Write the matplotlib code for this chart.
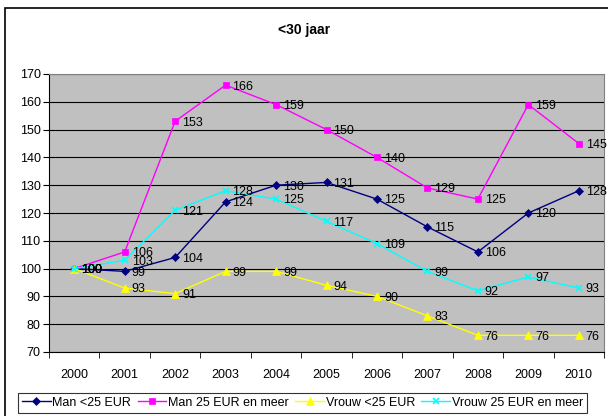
import matplotlib
matplotlib.use('Agg')
import matplotlib.pyplot as plt
from matplotlib.patches import Rectangle
from matplotlib.ticker import MultipleLocator, FixedLocator

plt.rcParams['font.family'] = ['Liberation Sans', 'DejaVu Sans']

years = ['2000', '2001', '2002', '2003', '2004', '2005', '2006', '2007', '2008', '2009', '2010']
man_lt25 = [100, 99, 104, 124, 130, 131, 125, 115, 106, 120, 128]
man_25plus = [100, 106, 153, 166, 159, 150, 140, 129, 125, 159, 145]
vrouw_lt25 = [100, 93, 91, 99, 99, 94, 90, 83, 76, 76, 76]
vrouw_25plus = [100, 103, 121, 128, 125, 117, 109, 99, 92, 97, 93]

series = [
    ('Man <25 EUR', man_lt25, '#000080', 'D', 4),
    ('Man 25 EUR en meer', man_25plus, '#FF00FF', 's', 4.5),
    ('Vrouw <25 EUR', vrouw_lt25, '#FFFF00', '^', 5.5),
    ('Vrouw 25 EUR en meer', vrouw_25plus, '#00FFFF', 'x', 5),
]

fig = plt.figure(figsize=(6.08, 4.16), dpi=100)
ax = fig.add_axes([49 / 608, 1 - 352 / 416, 555 / 608, 278 / 416])
ax.set_facecolor('#C0C0C0')

# outer chart frame
fig.patches.append(Rectangle((5 / 608, -0.2), 1.2, 1.2 - 8 / 416, transform=fig.transFigure,
                             fill=False, edgecolor='black', linewidth=1.2))

x = list(range(len(years)))
for name, vals, col, mk, ms in series:
    ax.plot(x, vals, color=col, marker=mk, markersize=ms, linewidth=1,
            markeredgewidth=1.2 if mk == 'x' else 0.5, markeredgecolor=col, label=name)
    for xi, v in zip(x, vals):
        ax.annotate(str(v), (xi, v), xytext=(5, -1), textcoords='offset points',
                    fontsize=9, va='center', ha='left', clip_on=False)

ax.set_xlim(-0.5, len(years) - 0.5)
ax.set_ylim(70, 170)
ax.yaxis.set_major_locator(MultipleLocator(10))
ax.set_xticks(x)
ax.set_xticklabels(years, fontsize=9)
ax.xaxis.set_minor_locator(FixedLocator([i - 0.5 for i in range(len(years) + 1)]))
ax.tick_params(axis='x', which='major', length=0, pad=12)
ax.tick_params(axis='x', which='minor', length=4, direction='out')
ax.tick_params(axis='y', labelsize=9, length=4, direction='out', pad=2)
ax.grid(axis='y', color='black', linewidth=0.8)
ax.set_axisbelow(True)
for side in ['top', 'right']:
    ax.spines[side].set_color('#808080')
ax.spines['left'].set_color('black')
ax.spines['bottom'].set_color('black')

fig.text(0.5, 1 - 30 / 416, '<30 jaar', ha='center', va='center', fontsize=10, fontweight='bold')

leg = fig.legend(loc='upper left', bbox_to_anchor=(18 / 608, 1 - 393 / 416), ncol=4, fontsize=9,
                 frameon=True, fancybox=False, edgecolor='black', handlelength=2.3,
                 columnspacing=0.5, handletextpad=0.15, borderpad=0.3, borderaxespad=0)
leg.get_frame().set_linewidth(0.8)

fig.savefig('out.png', dpi=100)
